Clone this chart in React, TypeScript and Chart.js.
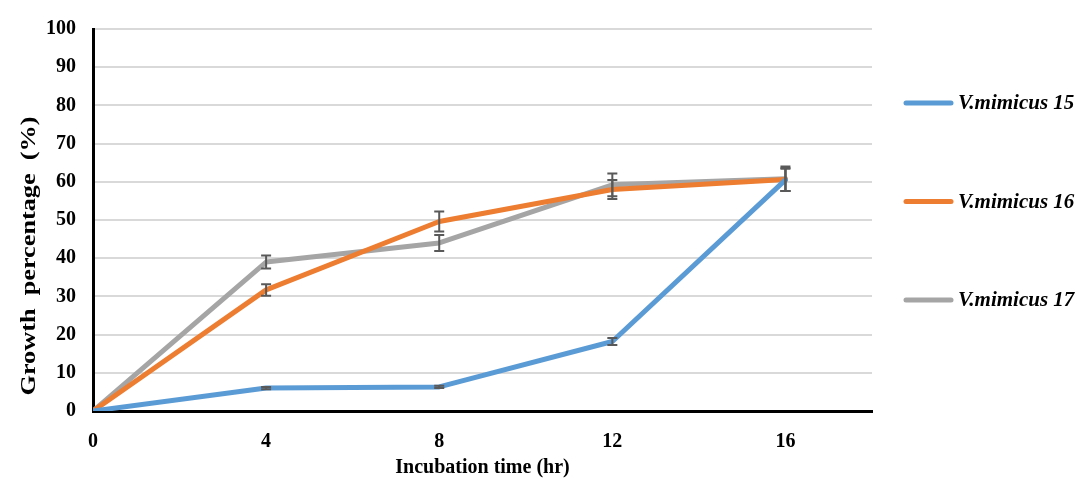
import { useEffect, useRef } from "react";
import { Chart, registerables } from "chart.js";

Chart.register(...registerables);

// Sampling times (hr)
const hours = [0, 4, 8, 12, 16];
const xTicks = [0, 4, 8, 12, 16];
const yTicks = [0, 10, 20, 30, 40, 50, 60, 70, 80, 90, 100];

// Growth percentage (%) and standard error for each strain
const seriesNames = ["V.mimicus 15", "V.mimicus 16", "V.mimicus 17"];
const strain15 = [0, 6.0, 6.3, 18.2, 60.5];
const strain15Err = [0, 0.3, 0.3, 0.9, 2.9];
const strain16 = [0, 31.7, 49.6, 58.0, 60.6];
const strain16Err = [0, 1.5, 2.6, 2.5, 3.0];
const strain17 = [0, 39.0, 44.0, 59.2, 60.8];
const strain17Err = [0, 1.7, 2.1, 3.0, 3.2];

const seriesColors = ["#5B9BD5", "#ED7D31", "#A5A5A5"];
const errorColor = "#595959";
const serif = "'Liberation Serif', 'Times New Roman', serif";

const errorsBySeries = [strain15Err, strain16Err, strain17Err];

const errorBarPlugin = {
  id: "errorBars",
  afterDatasetsDraw(chart: any) {
    const { ctx, scales } = chart;
    ctx.save();
    ctx.strokeStyle = errorColor;
    ctx.lineWidth = 2;
    chart.data.datasets.forEach((ds: any, i: number) => {
      const errs = errorsBySeries[i];
      ds.data.forEach((pt: any, j: number) => {
        const e = errs[j];
        if (!e) return;
        const x = scales.x.getPixelForValue(pt.x);
        const yTop = scales.y.getPixelForValue(pt.y + e);
        const yBot = scales.y.getPixelForValue(pt.y - e);
        ctx.beginPath();
        ctx.moveTo(x, yTop);
        ctx.lineTo(x, yBot);
        ctx.moveTo(x - 5, yTop);
        ctx.lineTo(x + 5, yTop);
        ctx.moveTo(x - 5, yBot);
        ctx.lineTo(x + 5, yBot);
        ctx.stroke();
      });
    });
    ctx.restore();
  },
};

const sideLegendPlugin = {
  id: "sideLegend",
  afterDraw(chart: any) {
    const { ctx, chartArea } = chart;
    ctx.save();
    const lineStart = chartArea.right + 32;
    const lineEnd = lineStart + 49;
    chart.data.datasets.forEach((ds: any, i: number) => {
      const y = 103 + i * 98.5;
      ctx.strokeStyle = ds.borderColor;
      ctx.lineWidth = 5;
      ctx.lineCap = "round";
      ctx.beginPath();
      ctx.moveTo(lineStart + 2, y);
      ctx.lineTo(lineEnd - 2, y);
      ctx.stroke();
      ctx.fillStyle = "#000";
      ctx.font = `italic bold 21px ${serif}`;
      ctx.textAlign = "left";
      ctx.textBaseline = "middle";
      ctx.fillText(ds.label, lineEnd + 5, y + 1);
    });
    ctx.restore();
  },
};

// Vertical axis title, drawn slightly elongated along its length
const yTitlePlugin = {
  id: "yTitle",
  afterDraw(chart: any) {
    const { ctx } = chart;
    ctx.save();
    ctx.translate(30, 256);
    ctx.rotate(-Math.PI / 2);
    ctx.scale(1.25, 1);
    ctx.font = `bold 21px ${serif}`;
    ctx.fillStyle = "#000";
    ctx.textAlign = "center";
    ctx.textBaseline = "middle";
    ctx.fillText("Growth  percentage  (%)", 0, 0);
    ctx.restore();
  },
};

export default function App() {
  const canvasRef = useRef<HTMLCanvasElement | null>(null);

  useEffect(() => {
    if (!canvasRef.current) return;
    const values = [strain15, strain16, strain17];
    const chart = new Chart(canvasRef.current, {
      type: "line",
      data: {
        datasets: seriesNames.map((name, i) => ({
          label: name,
          data: hours.map((h, j) => ({ x: h, y: values[i][j] })),
          borderColor: seriesColors[i],
          backgroundColor: seriesColors[i],
          borderWidth: 5,
          pointRadius: 0,
          tension: 0,
          borderJoinStyle: "round" as const,
          borderCapStyle: "round" as const,
        })),
      },
      options: {
        animation: false,
        responsive: true,
        maintainAspectRatio: false,
        layout: { padding: { top: 25, right: 211, bottom: 0, left: 0 } },
        plugins: {
          legend: { display: false },
          tooltip: { enabled: false },
        },
        scales: {
          x: {
            type: "linear",
            min: 0,
            max: 18,
            afterBuildTicks: (scale: any) => {
              scale.ticks = xTicks.map((v) => ({ value: v }));
            },
            afterFit: (scale: any) => {
              scale.height = 74;
            },
            grid: { display: false, drawTicks: false },
            border: { display: true, color: "#000", width: 3 },
            ticks: {
              padding: 19,
              color: "#000",
              font: { family: serif, size: 20, weight: "bold" },
            },
            title: {
              display: true,
              text: "Incubation time (hr)",
              color: "#000",
              font: { family: serif, size: 20, weight: "bold" },
              padding: { top: 0, bottom: 5 },
            },
          },
          y: {
            type: "linear",
            min: 0,
            max: 100,
            afterBuildTicks: (scale: any) => {
              scale.ticks = yTicks.map((v) => ({ value: v }));
            },
            afterFit: (scale: any) => {
              scale.width = 93;
            },
            grid: { color: "#D9D9D9", lineWidth: 2, drawTicks: false },
            border: { display: true, color: "#000", width: 3 },
            ticks: {
              padding: 17,
              color: "#000",
              font: { family: serif, size: 20, weight: "bold" },
            },
          },
        },
      },
      plugins: [errorBarPlugin, sideLegendPlugin, yTitlePlugin],
    } as any);
    return () => chart.destroy();
  }, []);

  return (
    <div
      style={{
        position: "absolute",
        left: 0,
        top: 0,
        width: 1083,
        height: 485,
        background: "#fff",
      }}
    >
      <canvas ref={canvasRef} />
    </div>
  );
}
